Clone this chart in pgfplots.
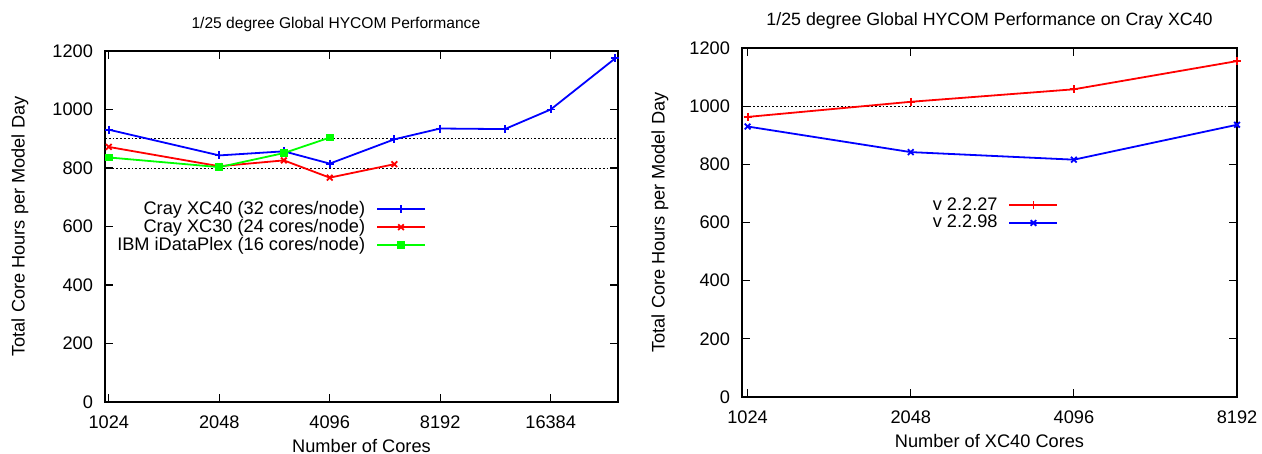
\documentclass[border=0pt]{standalone}
\usepackage{fontspec}
\setmainfont{Liberation Sans}
\usepackage{pgfplots}
\pgfplotsset{compat=1.18}
\definecolor{gblue}{RGB}{0,0,255}
\definecolor{gred}{RGB}{255,0,0}
\definecolor{ggreen}{RGB}{0,255,0}
\pgfplotsset{
  hyc/.style={
    scale only axis,
    font=\fontsize{9.1}{10.5}\selectfont,
    ticklabel style={font=\fontsize{9.1}{10.5}\selectfont},
    tick align=inside,
    axis line style={line width=1pt},
    major tick length=4pt,
    tick style={black, line width=0.6pt},
    ymin=0, ymax=1200, ytick={0,200,400,600,800,1000,1200},
    legend cell align=right,
    legend plot pos=right,
    legend image code/.code={\draw[mark repeat=2,mark phase=2,##1] plot coordinates {(0pt,0pt) (12pt,0pt) (24pt,0pt)};},
    every axis plot/.append style={line width=0.9pt, mark size=2pt},
    minor tick num=0,
    xticklabel style={yshift=-3.5pt},
    yticklabel style={xshift=-2.5pt, /pgf/number format/assume math mode=true, /pgf/number format/1000 sep={}},
  }
}
\begin{document}
\begin{tikzpicture}[x=1pt,y=1pt]
\useasboundingbox (0,0) rectangle (631,227);
\begin{axis}[hyc,
  xmode=log, log basis x=2,
  at={(52.5pt,26pt)}, anchor=south west,
  width=256.5pt, height=175.5pt,
  xmin=1000, xmax=25000,
  xtick={1024,2048,4096,8192,16384},
  xticklabels={1024,2048,4096,8192,16384},
  title={1/25 degree Global HYCOM Performance},
  title style={at={(axis description cs:0.45,1)}, anchor=center, yshift=7.5pt, font=\fontsize{7.8}{9}\selectfont},
  xlabel={Number of Cores},
  xlabel style={at={(axis description cs:0.5,-0.125)}, anchor=center},
  ylabel={Total Core Hours per Model Day},
  ylabel style={at={(axis description cs:-0.166,0.5)}, anchor=center},
  legend style={at={(axis description cs:0.638,0.498)}, anchor=east, draw=none, fill=none,
    font=\fontsize{9.1}{10.5}\selectfont, row sep=-3pt,
    /tikz/every odd column/.append style={column sep=3.5pt}},
]
\addplot[black, densely dotted, line width=0.4pt, forget plot] coordinates {(1000,800) (25000,800)};
\addplot[black, densely dotted, line width=0.4pt, forget plot] coordinates {(1000,900) (25000,900)};
\addplot[gblue, mark=+] coordinates {
  (1024,931) (2048,843) (3072,857) (4096,815) (6144,898) (8192,935) (12288,933) (16384,1000) (24576,1175)};
\addlegendentry{Cray XC40 (32 cores/node)}
\addplot[gred, mark=x] coordinates {
  (1024,872) (2048,806) (3072,826) (4096,767) (6144,813)};
\addlegendentry{Cray XC30 (24 cores/node)}
\addplot[ggreen, mark=square*, mark size=1.5pt] coordinates {
  (1024,836) (2048,803) (3072,851) (4096,904)};
\addlegendentry{IBM iDataPlex (16 cores/node)}
\end{axis}
\begin{axis}[hyc,
  xmode=log, log basis x=2,
  at={(371pt,28.5pt)}, anchor=south west,
  width=247.5pt, height=174.5pt,
  xmin=1000, xmax=8192,
  xtick={1024,2048,4096,8192},
  xticklabels={1024,2048,4096,8192},
  title={1/25 degree Global HYCOM Performance on Cray XC40},
  title style={at={(axis description cs:0.5,1)}, anchor=center, yshift=7.5pt, font=\fontsize{8.9}{10}\selectfont},
  xlabel={Number of XC40 Cores},
  xlabel style={at={(axis description cs:0.5,-0.126)}, anchor=center},
  ylabel={Total Core Hours per Model Day},
  ylabel style={at={(axis description cs:-0.166,0.5)}, anchor=center},
  legend style={at={(axis description cs:0.652,0.524)}, anchor=east, draw=none, fill=none,
    font=\fontsize{9.1}{10.5}\selectfont, row sep=-3pt,
    /tikz/every odd column/.append style={column sep=3.5pt}},
]
\addplot[black, densely dotted, line width=0.4pt, forget plot] coordinates {(1000,1000) (8192,1000)};
\addplot[gred, mark=+] coordinates {
  (1024,963) (2048,1015) (4096,1058) (8192,1155)};
\addlegendentry{v 2.2.27}
\addplot[gblue, mark=x] coordinates {
  (1024,930) (2048,842) (4096,816) (8192,936)};
\addlegendentry{v 2.2.98}
\end{axis}
\end{tikzpicture}
\end{document}
